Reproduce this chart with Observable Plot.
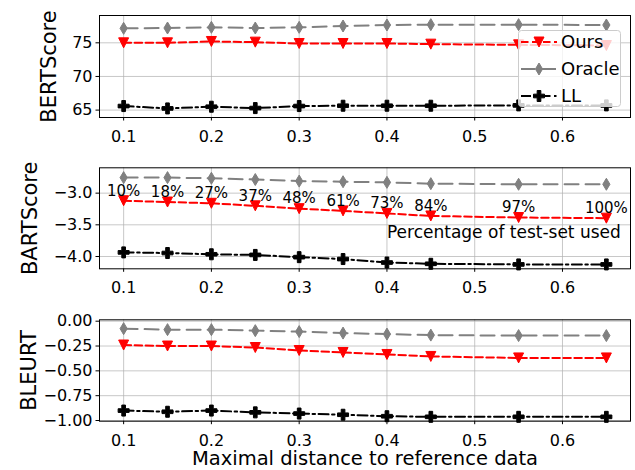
<!DOCTYPE html>
<html>
<head>
<meta charset="utf-8">
<script src="https://cdn.jsdelivr.net/npm/d3@7"></script>
<script src="https://cdn.jsdelivr.net/npm/@observablehq/plot@0.6"></script>
<style>
  body { margin: 0; background: #fff; font-family: "DejaVu Sans", sans-serif; }
  #chart { position: relative; width: 635px; height: 470px; }
  #chart > svg { display: block; }
  #legend { position: absolute; left: 0; top: 0; pointer-events: none; }
</style>
</head>
<body>
<div id="chart"></div>
<script>
// ---- data ----
const distances = [0.1, 0.15, 0.2, 0.25, 0.3, 0.35, 0.4, 0.45, 0.55, 0.65];
const seriesNames = ["Ours", "Oracle", "LL"];

const bertOurs   = [75.0, 75.0, 75.2, 75.1, 74.9, 74.9, 74.9, 74.8, 74.7, 74.6];
const bertOracle = [77.15, 77.2, 77.3, 77.2, 77.3, 77.5, 77.65, 77.7, 77.7, 77.65];
const bertLL     = [65.6, 65.25, 65.5, 65.3, 65.6, 65.65, 65.65, 65.65, 65.7, 65.7];

const bartOurs   = [-3.12, -3.14, -3.16, -3.2, -3.245, -3.28, -3.32, -3.36, -3.385, -3.395];
const bartOracle = [-2.755, -2.755, -2.765, -2.785, -2.81, -2.82, -2.83, -2.85, -2.86, -2.86];
const bartLL     = [-3.935, -3.945, -3.965, -3.975, -4.01, -4.04, -4.095, -4.115, -4.125, -4.125];

const bleurtOurs   = [-0.24, -0.25, -0.25, -0.265, -0.295, -0.315, -0.335, -0.355, -0.37, -0.37];
const bleurtOracle = [-0.075, -0.085, -0.085, -0.095, -0.105, -0.12, -0.13, -0.14, -0.145, -0.145];
const bleurtLL     = [-0.9, -0.912, -0.9, -0.918, -0.93, -0.942, -0.957, -0.963, -0.963, -0.963];

const percentLabels = ["10%", "18%", "27%", "37%", "48%", "61%", "73%", "84%", "97%", "100%"];
const noteText = "Percentage of test-set used";

const xTicks = [0.1, 0.2, 0.3, 0.4, 0.5, 0.6];
const bertTicks = [65, 70, 75];
const bartTicks = [-4.0, -3.5, -3.0];
const bleurtTicks = [-1.0, -0.75, -0.5, -0.25, 0.0];
const yLabels = ["BERTScore", "BARTScore", "BLEURT"];
const xLabel = "Maximal distance to reference data";

// ---- symbols ----
const triDown = {draw(ctx, size) { const r = Math.sqrt(size / Math.PI);
  ctx.moveTo(-r, -r); ctx.lineTo(r, -r); ctx.lineTo(0, r); ctx.closePath(); }};
const thinDiamond = {draw(ctx, size) { const r = Math.sqrt(size / Math.PI), w = 0.6 * r;
  ctx.moveTo(0, -r); ctx.lineTo(w, 0); ctx.lineTo(0, r); ctx.lineTo(-w, 0); ctx.closePath(); }};
const plusFilled = {draw(ctx, size) { const r = Math.sqrt(size / Math.PI), a = r / 3;
  const p = [[-a,-r],[a,-r],[a,-a],[r,-a],[r,a],[a,a],[a,r],[-a,r],[-a,a],[-r,a],[-r,-a],[-a,-a]];
  ctx.moveTo(p[0][0], p[0][1]); for (let i = 1; i < p.length; i++) ctx.lineTo(p[i][0], p[i][1]); ctx.closePath(); }};

const styles = {
  Ours:   {color: "#ff0000", dash: "7.5,3.5", symbol: triDown, r: 5},
  Oracle: {color: "#808080", dash: "14,7", symbol: thinDiamond, r: 6},
  LL:     {color: "#000000", dash: "10,3.5,2.5,3.5", symbol: plusFilled, r: 5.5}
};

const X_DOMAIN = [0.0725, 0.6775];
const ML = 99, MR = 5;

function panel(opts) {
  const {height, marginTop, marginBottom, yDomain, yTicks, yFormat, yLabel, yLabelDx, values, extra = []} = opts;
  const marks = [
    Plot.gridX(xTicks, {stroke: "#b0b0b0", strokeOpacity: 0.7, strokeWidth: 1}),
    Plot.gridY(yTicks, {stroke: "#b0b0b0", strokeOpacity: 0.7, strokeWidth: 1}),
    Plot.axisX(xTicks, {tickSize: 3.5, tickPadding: 9.5, tickFormat: d3.format(".1f"), label: null, fontSize: 16}),
    Plot.axisY(yTicks, {tickSize: 3.5, tickPadding: 3.5, tickFormat: d3.format(yFormat), label: null, fontSize: 16})
  ];
  seriesNames.forEach((name, k) => {
    const s = styles[name];
    const data = distances.map((x, i) => ({x, y: values[k][i]}));
    marks.push(Plot.line(data, {x: "x", y: "y", stroke: s.color, strokeWidth: 2, strokeDasharray: s.dash}));
    marks.push(Plot.dot(data, {x: "x", y: "y", symbol: s.symbol, r: s.r, fill: s.color, stroke: s.color, strokeWidth: 1}));
  });
  marks.push(...extra);
  marks.push(Plot.frame({stroke: "black", strokeWidth: 1}));
  marks.push(Plot.text([yLabel], {frameAnchor: "left", rotate: -90, dx: yLabelDx, textAnchor: "middle", lineAnchor: "middle", fontSize: 21, fill: "black"}));
  return Plot.plot({
    width: 635, height, marginLeft: ML, marginRight: MR, marginTop, marginBottom,
    x: {domain: X_DOMAIN}, y: {domain: yDomain},
    style: {fontFamily: "DejaVu Sans, sans-serif", fontSize: "16px", color: "black", background: "white"},
    marks
  });
}

const chart = document.getElementById("chart");

chart.append(panel({
  height: 150, marginTop: 15, marginBottom: 33, yDomain: [63.9, 79.06], yTicks: bertTicks, yFormat: "d",
  yLabel: yLabels[0], yLabelDx: -50, values: [bertOurs, bertOracle, bertLL]
}));

const pctData = distances.map((x, i) => ({x, y: bartOurs[i], t: percentLabels[i]}));
chart.append(panel({
  height: 150, marginTop: 17.3, marginBottom: 31.7, yDomain: [-4.194, -2.6], yTicks: bartTicks, yFormat: ".1f",
  yLabel: yLabels[1], yLabelDx: -69, values: [bartOurs, bartOracle, bartLL],
  extra: [
    Plot.text(pctData, {x: "x", y: "y", text: "t", dy: -10, lineAnchor: "middle", fontSize: 15, fill: "black"}),
    Plot.text([noteText], {x: () => 0.4, y: () => -3.615, textAnchor: "start", lineAnchor: "middle", fontSize: 17, fill: "black"})
  ]
}));

chart.append(panel({
  height: 170, marginTop: 19.3, marginBottom: 49.3, yDomain: [-1.007, 0.014], yTicks: bleurtTicks, yFormat: ".2f",
  yLabel: yLabels[2], yLabelDx: -70, values: [bleurtOurs, bleurtOracle, bleurtLL],
  extra: [
    Plot.text([xLabel], {frameAnchor: "bottom", dy: 37.5, lineAnchor: "middle", fontSize: 19.5, fill: "black"})
  ]
}));

// ---- legend (overlay on top panel) ----
const lg = d3.create("svg").attr("id", "legend").attr("width", 635).attr("height", 150);
lg.append("rect").attr("x", 518.5).attr("y", 30.5).attr("width", 102).attr("height", 76).attr("rx", 3)
  .attr("fill", "white").attr("fill-opacity", 0.8).attr("stroke", "#cccccc").attr("stroke-width", 1);
seriesNames.forEach((name, k) => {
  const s = styles[name];
  const cy = 42 + k * 27;
  lg.append("line").attr("x1", 521).attr("x2", 557).attr("y1", cy).attr("y2", cy)
    .attr("stroke", s.color).attr("stroke-width", 2).attr("stroke-dasharray", s.dash);
  lg.append("path").attr("transform", `translate(539,${cy})`)
    .attr("d", d3.symbol(s.symbol, s.r * s.r * Math.PI)())
    .attr("fill", s.color).attr("stroke", s.color).attr("stroke-width", 1);
  lg.append("text").attr("x", 561).attr("y", cy).attr("dy", "0.35em")
    .attr("font-size", 18).attr("font-family", "DejaVu Sans, sans-serif").attr("fill", "black").text(name);
});
chart.append(lg.node());
</script>
</body>
</html>
